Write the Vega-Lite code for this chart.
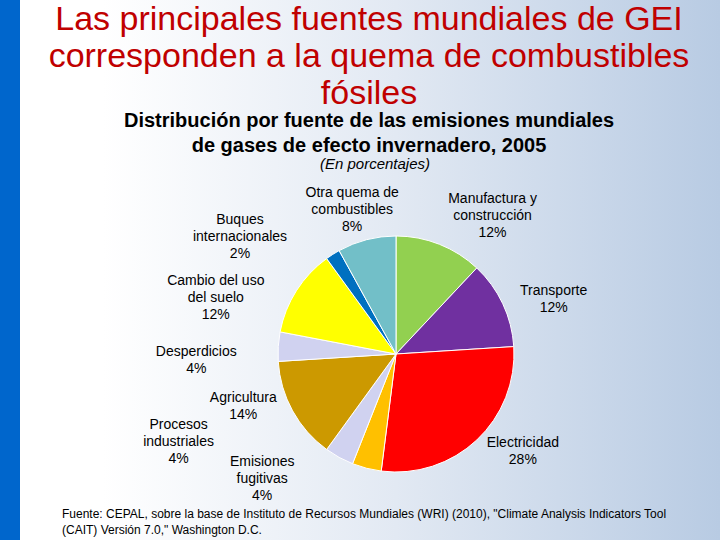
{
  "$schema": "https://vega.github.io/schema/vega-lite/v6.json",
  "autosize": {"type": "none"},
  "width": 792,
  "height": 708,
  "padding": {"left": 0, "top": 0, "right": -72, "bottom": -168},
  "background": "#ffffff",
  "config": {"view": {"stroke": null}, "font": "Liberation Sans"},
  "title": {
    "text": ["Las principales fuentes mundiales de GEI", "corresponden a la quema de combustibles", "fósiles"],
    "subtitle": ["Distribución por fuente de las emisiones mundiales", "de gases de efecto invernadero, 2005"],
    "anchor": "middle",
    "frame": "group",
    "offset": -156,
    "dx": -27,
    "font": "Liberation Sans",
    "fontSize": 34,
    "fontWeight": "normal",
    "color": "#C00000",
    "lineHeight": 37,
    "subtitleFont": "Liberation Sans",
    "subtitleFontSize": 20,
    "subtitleFontWeight": "bold",
    "subtitleColor": "#000000",
    "subtitleLineHeight": 25,
    "subtitlePadding": 0
  },
  "data": {
    "values": [
      {"orden": 1, "fuente": "Manufactura y construcción", "valor": 12, "etiqueta": "Manufactura y\nconstrucción\n12%"},
      {"orden": 2, "fuente": "Transporte", "valor": 12, "etiqueta": "Transporte\n12%"},
      {"orden": 3, "fuente": "Electricidad", "valor": 28, "etiqueta": "Electricidad\n28%"},
      {"orden": 4, "fuente": "Emisiones fugitivas", "valor": 4, "etiqueta": "Emisiones\nfugitivas\n4%"},
      {"orden": 5, "fuente": "Procesos industriales", "valor": 4, "etiqueta": "Procesos\nindustriales\n4%"},
      {"orden": 6, "fuente": "Agricultura", "valor": 14, "etiqueta": "Agricultura\n14%"},
      {"orden": 7, "fuente": "Desperdicios", "valor": 4, "etiqueta": "Desperdicios\n4%"},
      {"orden": 8, "fuente": "Cambio del uso del suelo", "valor": 12, "etiqueta": "Cambio del uso\ndel suelo\n12%"},
      {"orden": 9, "fuente": "Buques internacionales", "valor": 2, "etiqueta": "Buques\ninternacionales\n2%"},
      {"orden": 10, "fuente": "Otra quema de combustibles", "valor": 8, "etiqueta": "Otra quema de\ncombustibles\n8%"}
    ]
  },
  "encoding": {
    "theta": {"field": "valor", "type": "quantitative", "stack": true},
    "order": {"field": "orden", "type": "quantitative"}
  },
  "layer": [
    {
      "data": {"values": [{"capa": "fondo"}]},
      "mark": {
        "type": "rect",
        "fill": {
          "gradient": "linear",
          "x1": 0, "y1": 0, "x2": 1, "y2": 0,
          "stops": [
            {"offset": 0, "color": "#0066CC"},
            {"offset": 0.0252, "color": "#0066CC"},
            {"offset": 0.0256, "color": "#ffffff"},
            {"offset": 0.13, "color": "#ffffff"},
            {"offset": 0.5, "color": "#e2e9f3"},
            {"offset": 0.909, "color": "#b8cbe3"},
            {"offset": 1, "color": "#b8cbe3"}
          ]
        }
      },
      "encoding": {"theta": null, "order": null}
    },
    {
      "mark": {"type": "arc", "outerRadius": 118, "stroke": "#ffffff", "strokeWidth": 1},
      "encoding": {
        "color": {
          "field": "fuente", "type": "nominal", "legend": null,
          "scale": {
            "domain": ["Manufactura y construcción", "Transporte", "Electricidad", "Emisiones fugitivas", "Procesos industriales", "Agricultura", "Desperdicios", "Cambio del uso del suelo", "Buques internacionales", "Otra quema de combustibles"],
            "range": ["#92D050", "#7030A0", "#FF0000", "#FFC000", "#D0D2F0", "#CC9900", "#D0D2F0", "#FFFF00", "#0070C0", "#72BFC8"]
          }
        }
      }
    },
    {
      "mark": {"type": "text", "radius": 140, "align": "center", "baseline": "middle", "dx": 45, "dy": -25, "fontSize": 14, "lineHeight": 17, "lineBreak": "\n", "color": "#000000"},
      "encoding": {"detail": {"field": "fuente"}, "text": {"condition": {"test": "datum.orden == 1", "field": "etiqueta"}, "value": ""}}
    },
    {
      "mark": {"type": "text", "radius": 140, "align": "center", "baseline": "middle", "dx": 31, "dy": -3, "fontSize": 14, "lineHeight": 17, "lineBreak": "\n", "color": "#000000"},
      "encoding": {"detail": {"field": "fuente"}, "text": {"condition": {"test": "datum.orden == 2", "field": "etiqueta"}, "value": ""}}
    },
    {
      "mark": {"type": "text", "radius": 140, "align": "center", "baseline": "middle", "dx": 31, "dy": -13, "fontSize": 14, "lineHeight": 17, "lineBreak": "\n", "color": "#000000"},
      "encoding": {"detail": {"field": "fuente"}, "text": {"condition": {"test": "datum.orden == 3", "field": "etiqueta"}, "value": ""}}
    },
    {
      "mark": {"type": "text", "radius": 140, "align": "center", "baseline": "middle", "dx": -99, "dy": -28, "fontSize": 14, "lineHeight": 17, "lineBreak": "\n", "color": "#000000"},
      "encoding": {"detail": {"field": "fuente"}, "text": {"condition": {"test": "datum.orden == 4", "field": "etiqueta"}, "value": ""}}
    },
    {
      "mark": {"type": "text", "radius": 140, "align": "center", "baseline": "middle", "dx": -150, "dy": -52, "fontSize": 14, "lineHeight": 17, "lineBreak": "\n", "color": "#000000"},
      "encoding": {"detail": {"field": "fuente"}, "text": {"condition": {"test": "datum.orden == 5", "field": "etiqueta"}, "value": ""}}
    },
    {
      "mark": {"type": "text", "radius": 140, "align": "center", "baseline": "middle", "dx": -30, "dy": -23, "fontSize": 14, "lineHeight": 17, "lineBreak": "\n", "color": "#000000"},
      "encoding": {"detail": {"field": "fuente"}, "text": {"condition": {"test": "datum.orden == 6", "field": "etiqueta"}, "value": ""}}
    },
    {
      "mark": {"type": "text", "radius": 140, "align": "center", "baseline": "middle", "dx": -60, "dy": 7, "fontSize": 14, "lineHeight": 17, "lineBreak": "\n", "color": "#000000"},
      "encoding": {"detail": {"field": "fuente"}, "text": {"condition": {"test": "datum.orden == 7", "field": "etiqueta"}, "value": ""}}
    },
    {
      "mark": {"type": "text", "radius": 140, "align": "center", "baseline": "middle", "dx": -62, "dy": 2, "fontSize": 14, "lineHeight": 17, "lineBreak": "\n", "color": "#000000"},
      "encoding": {"detail": {"field": "fuente"}, "text": {"condition": {"test": "datum.orden == 8", "field": "etiqueta"}, "value": ""}}
    },
    {
      "mark": {"type": "text", "radius": 140, "align": "center", "baseline": "middle", "dx": -81, "dy": -16, "fontSize": 14, "lineHeight": 17, "lineBreak": "\n", "color": "#000000"},
      "encoding": {"detail": {"field": "fuente"}, "text": {"condition": {"test": "datum.orden == 9", "field": "etiqueta"}, "value": ""}}
    },
    {
      "mark": {"type": "text", "radius": 140, "align": "center", "baseline": "middle", "dx": -9, "dy": -25, "fontSize": 14, "lineHeight": 17, "lineBreak": "\n", "color": "#000000"},
      "encoding": {"detail": {"field": "fuente"}, "text": {"condition": {"test": "datum.orden == 10", "field": "etiqueta"}, "value": ""}}
    },
    {
      "data": {"values": [{"nota": "(En porcentajes)"}]},
      "mark": {"type": "text", "align": "center", "baseline": "middle", "dx": -21, "dy": -190, "fontSize": 15, "fontStyle": "italic", "color": "#000000"},
      "encoding": {"theta": null, "order": null, "text": {"field": "nota"}}
    },
    {
      "data": {"values": [{"fuente_nota": "Fuente: CEPAL, sobre la base de Instituto de Recursos Mundiales (WRI) (2010), \"Climate Analysis Indicators Tool\n(CAIT) Versión 7.0,\" Washington D.C."}]},
      "mark": {"type": "text", "align": "left", "baseline": "middle", "dx": -334, "dy": 160, "fontSize": 12, "lineHeight": 16, "lineBreak": "\n", "color": "#000000"},
      "encoding": {"theta": null, "order": null, "text": {"field": "fuente_nota"}}
    }
  ]
}
